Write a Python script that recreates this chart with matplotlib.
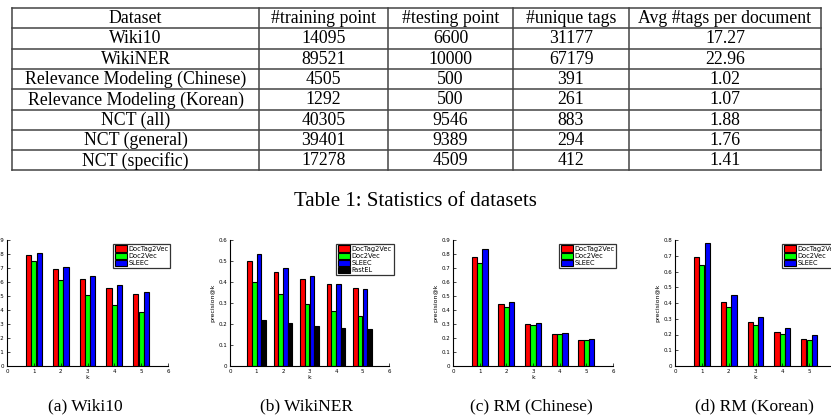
import matplotlib
matplotlib.use('Agg')
import matplotlib.pyplot as plt
import numpy as np

W, H = 831, 420

# ---- table data ----
col_headers = ['Dataset', '#training point', '#testing point', '#unique tags', 'Avg #tags per document']
datasets = ['Wiki10', 'WikiNER', 'Relevance Modeling (Chinese)', 'Relevance Modeling (Korean)',
            'NCT (all)', 'NCT (general)', 'NCT (specific)']
n_train = ['14095', '89521', '4505', '1292', '40305', '39401', '17278']
n_test = ['6600', '10000', '500', '500', '9546', '9389', '4509']
n_tags = ['31177', '67179', '391', '261', '883', '294', '412']
avg_tags = ['17.27', '22.96', '1.02', '1.07', '1.88', '1.76', '1.41']

# ---- chart data (precision@k) ----
k = [1, 2, 3, 4, 5]
wiki10_doctag = [0.795, 0.695, 0.624, 0.560, 0.517]
wiki10_doc2vec = [0.748, 0.614, 0.510, 0.438, 0.383]
wiki10_sleec = [0.807, 0.710, 0.640, 0.579, 0.531]

wikiner_doctag = [0.500, 0.449, 0.416, 0.389, 0.370]
wikiner_doc2vec = [0.400, 0.343, 0.295, 0.263, 0.240]
wikiner_sleec = [0.532, 0.468, 0.427, 0.392, 0.367]
wikiner_fastel = [0.221, 0.205, 0.192, 0.183, 0.178]

rmcn_doctag = [0.781, 0.443, 0.302, 0.229, 0.188]
rmcn_doc2vec = [0.736, 0.419, 0.290, 0.226, 0.183]
rmcn_sleec = [0.836, 0.460, 0.310, 0.233, 0.190]

rmko_doctag = [0.694, 0.406, 0.281, 0.214, 0.174]
rmko_doc2vec = [0.643, 0.372, 0.262, 0.203, 0.167]
rmko_sleec = [0.783, 0.453, 0.311, 0.239, 0.195]

subcaptions = ['(a) Wiki10', '(b) WikiNER', '(c) RM (Chinese)', '(d) RM (Korean)']

fig = plt.figure(figsize=(W / 100, H / 100), dpi=100)
serif = ['Liberation Serif', 'DejaVu Serif']

# ---- table, drawn in pixel coordinates ----
bg = fig.add_axes([0, 0, 1, 1])
bg.set_xlim(0, W)
bg.set_ylim(H, 0)
bg.axis('off')

col_x = [12, 259, 388, 513, 629, 821]
row_top, row_h = 8, 20.3
n_rows = len(datasets) + 1
line_c = '#444444'
for i in range(n_rows + 1):
    y = row_top + i * row_h
    bg.plot([col_x[0], col_x[-1]], [y, y], color=line_c, lw=1.1)
for x in col_x:
    bg.plot([x, x], [row_top, row_top + n_rows * row_h], color=line_c, lw=1.1)

rows = [col_headers] + [list(r) for r in zip(datasets, n_train, n_test, n_tags, avg_tags)]
for i, r in enumerate(rows):
    yc = row_top + (i + 0.5) * row_h
    for j, txt in enumerate(r):
        xc = (col_x[j] + col_x[j + 1]) / 2
        bg.text(xc, yc + 0.5, txt, ha='center', va='center', fontsize=12.8, family=serif)

bg.text(415, 201, 'Table 1: Statistics of datasets', ha='center', va='center',
        fontsize=15, family=serif)

cap_x = [85, 307, 531, 754]
for cx, cap in zip(cap_x, subcaptions):
    bg.text(cx, 406, cap, ha='center', va='center', fontsize=12.5, family=serif)

# ---- bar charts ----
def px_axes(left, right, top, bottom):
    return fig.add_axes([left / W, (H - bottom) / H, (right - left) / W, (bottom - top) / H])

colors = ['#ff0000', '#00ff00', '#0000ff', '#000000']

def draw(ax, series, labels, ymax, leg_x, ylabel=True):
    n = len(series)
    x = np.array(k)
    if n == 3:
        w, offs = 0.19, [-0.2, 0.0, 0.2]
    else:
        w, offs = 0.175, [-0.2625, -0.0875, 0.0875, 0.2625]
    for s, o, c, lab in zip(series, offs, colors, labels):
        ax.bar(x + o, s, w, color=c, edgecolor='black', linewidth=0.8, label=lab)
    ax.set_xlim(0, 6)
    ax.set_ylim(0, ymax)
    ax.set_xticks(range(7))
    yt = np.round(np.arange(0, ymax + 1e-9, 0.1), 1)
    ax.set_yticks(yt)
    ax.set_yticklabels(['0' if v == 0 else f'{v:.1f}' for v in yt])
    ax.tick_params(direction='in', length=2, width=0.5, labelsize=4, pad=2, colors='black')
    for sp in ['top', 'right']:
        ax.spines[sp].set_visible(False)
    for sp in ['left', 'bottom']:
        ax.spines[sp].set_linewidth(0.8)
    ax.set_xlabel('k', fontsize=4.5, labelpad=1)
    if ylabel:
        ax.set_ylabel('precision@k', fontsize=4.5, labelpad=2)
    leg = ax.legend(loc='upper left', bbox_to_anchor=(leg_x, 0.97), fontsize=4.8,
                    fancybox=False, framealpha=1, edgecolor='#333333',
                    handlelength=1.9, handleheight=1.1, labelspacing=0.1,
                    borderpad=0.25, handletextpad=0.2, borderaxespad=0)
    leg.get_frame().set_linewidth(0.9)

ax1 = px_axes(7, 168, 240, 366)
draw(ax1, [wiki10_doctag, wiki10_doc2vec, wiki10_sleec],
     ['DocTag2Vec', 'Doc2Vec', 'SLEEC'], 0.9, 0.658, ylabel=False)

ax2 = px_axes(230, 389, 240, 366)
draw(ax2, [wikiner_doctag, wikiner_doc2vec, wikiner_sleec, wikiner_fastel],
     ['DocTag2Vec', 'Doc2Vec', 'SLEEC', 'FastEL'], 0.6, 0.667)

ax3 = px_axes(453, 613, 240, 366)
draw(ax3, [rmcn_doctag, rmcn_doc2vec, rmcn_sleec],
     ['DocTag2Vec', 'Doc2Vec', 'SLEEC'], 0.9, 0.662)

ax4 = px_axes(675, 836, 240, 366)
draw(ax4, [rmko_doctag, rmko_doc2vec, rmko_sleec],
     ['DocTag2Vec', 'Doc2Vec', 'SLEEC'], 0.8, 0.665)

fig.savefig('out.png', dpi=100)
plt.close(fig)
